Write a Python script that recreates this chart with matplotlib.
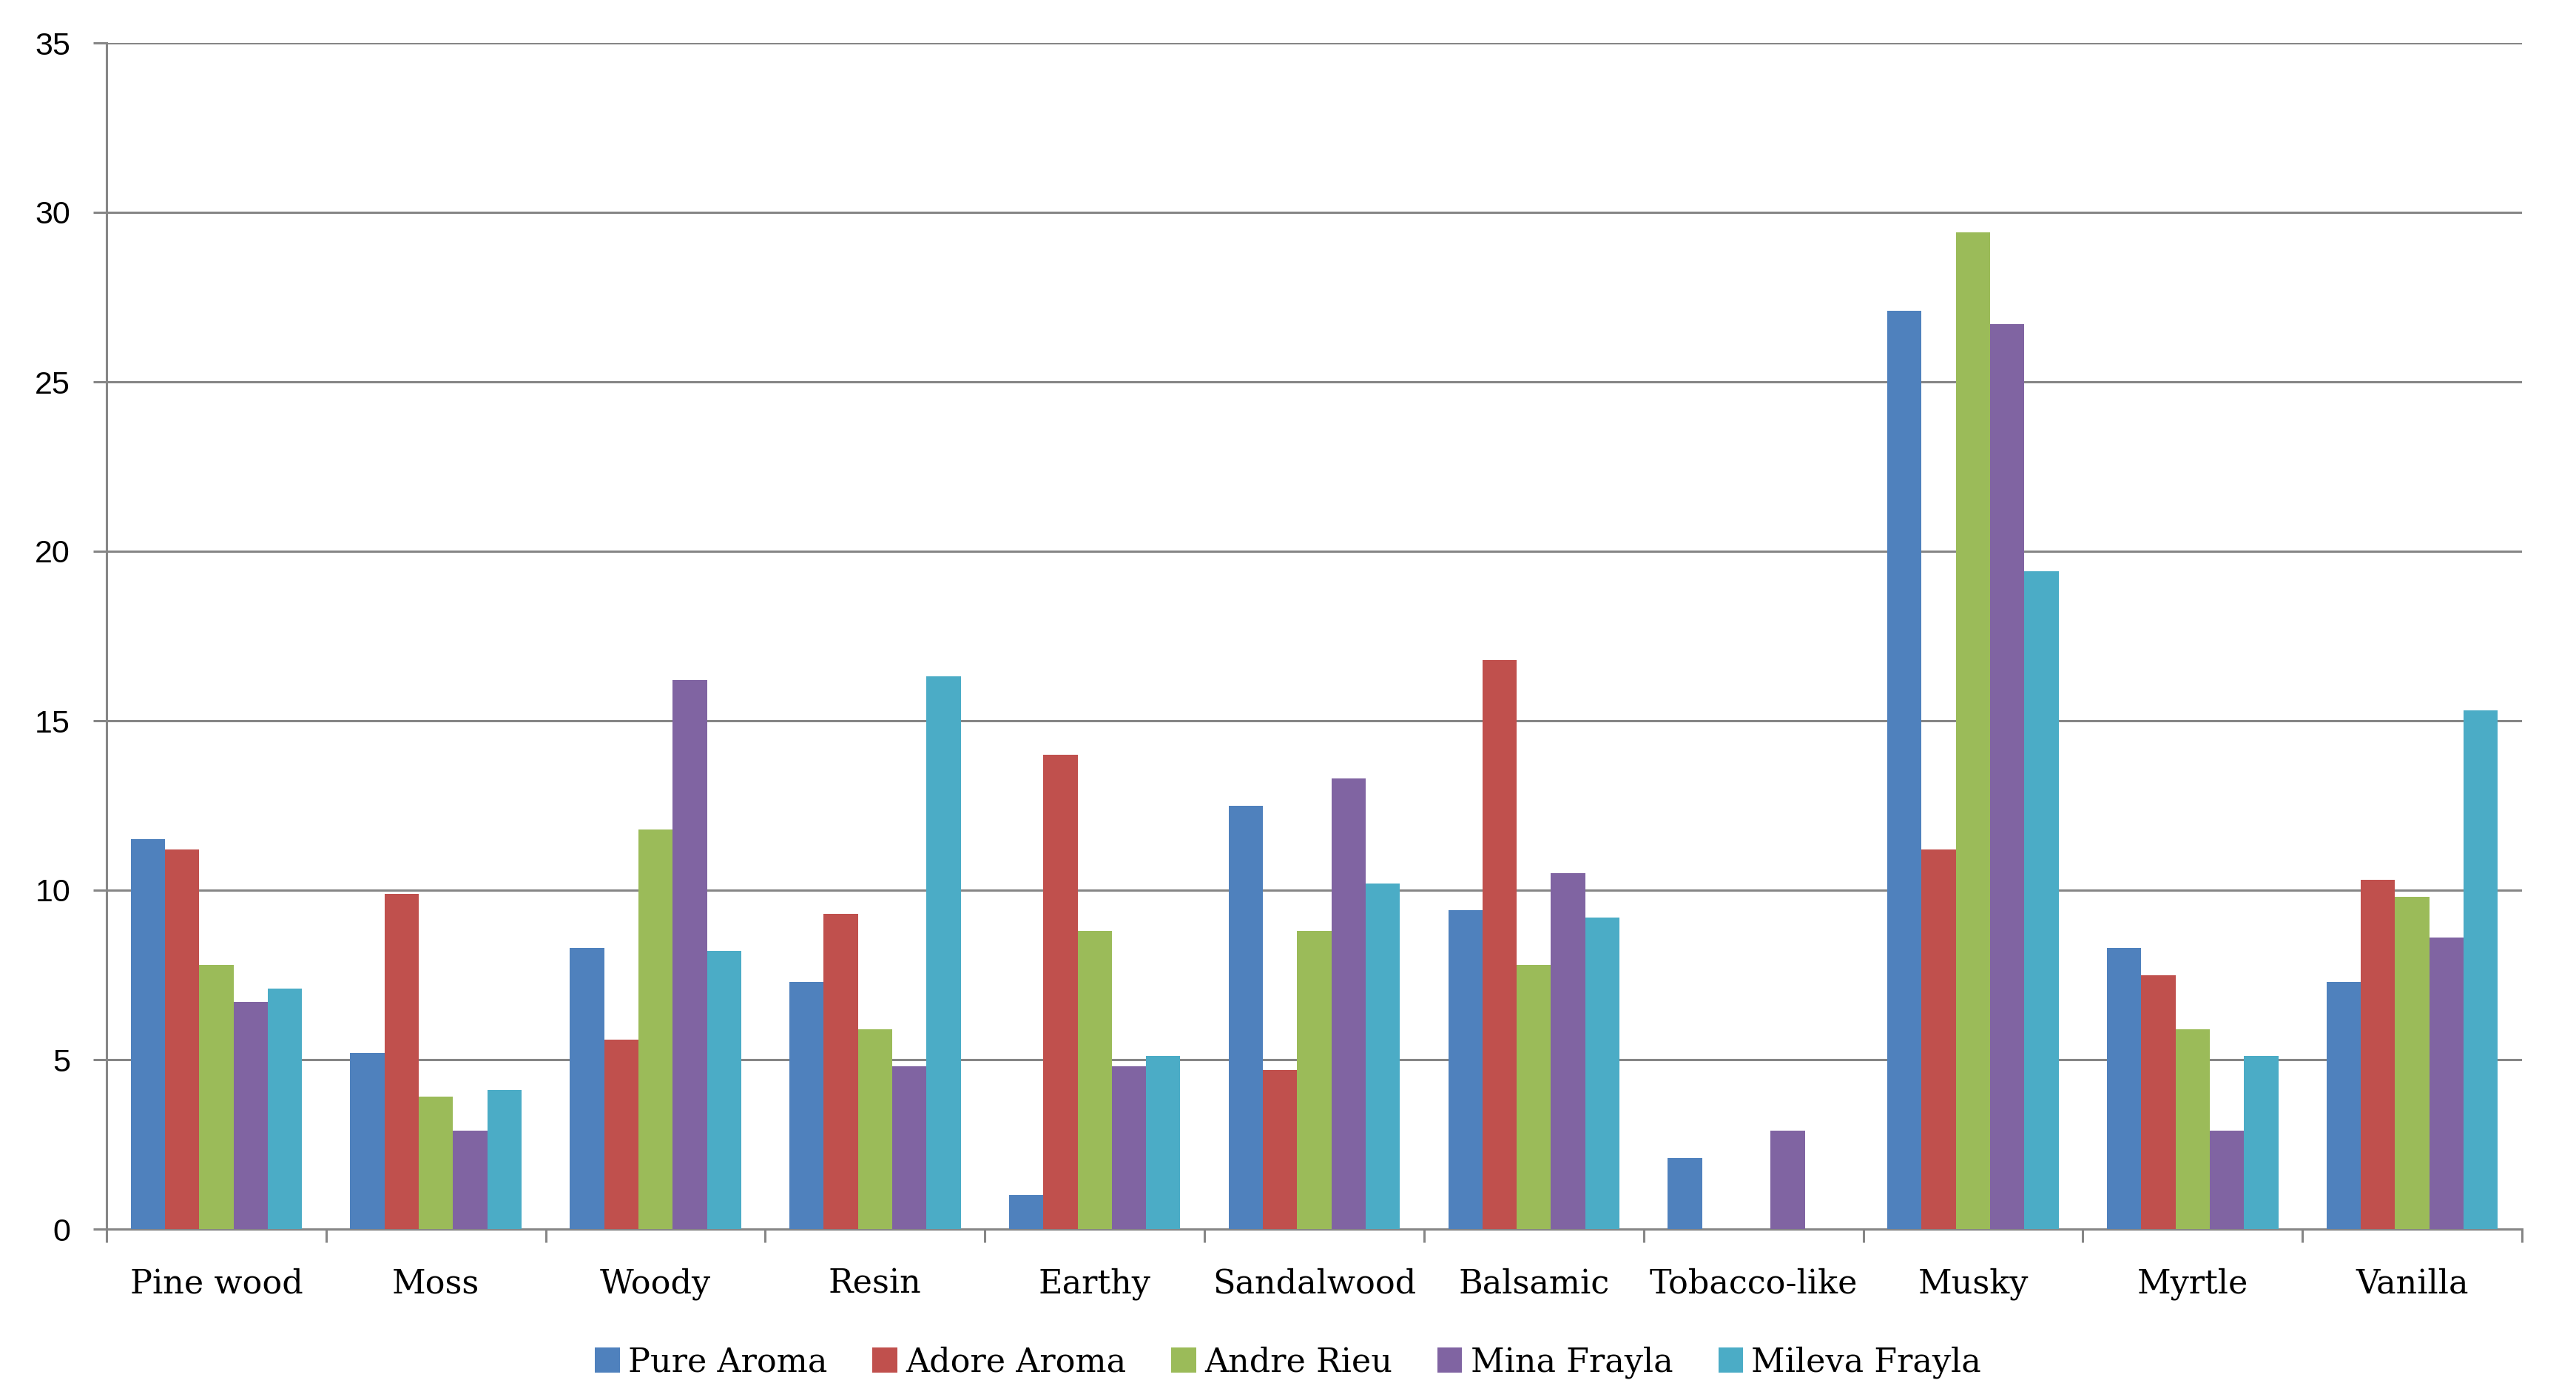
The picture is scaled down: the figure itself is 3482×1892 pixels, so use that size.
import matplotlib
matplotlib.use("Agg")
import matplotlib.pyplot as plt
import numpy as np

categories = ["Pine wood", "Moss", "Woody", "Resin", "Earthy", "Sandalwood",
              "Balsamic", "Tobacco-like", "Musky", "Myrtle", "Vanilla"]
series_names = ["Pure Aroma", "Adore Aroma", "Andre Rieu", "Mina Frayla", "Mileva Frayla"]
pure_aroma   = [11.5, 5.2, 8.3, 7.3, 1.0, 12.5, 9.4, 2.1, 27.1, 8.3, 7.3]
adore_aroma  = [11.2, 9.9, 5.6, 9.3, 14.0, 4.7, 16.8, 0.0, 11.2, 7.5, 10.3]
andre_rieu   = [7.8, 3.9, 11.8, 5.9, 8.8, 8.8, 7.8, 0.0, 29.4, 5.9, 9.8]
mina_frayla  = [6.7, 2.9, 16.2, 4.8, 4.8, 13.3, 10.5, 2.9, 26.7, 2.9, 8.6]
mileva_frayla = [7.1, 4.1, 8.2, 16.3, 5.1, 10.2, 9.2, 0.0, 19.4, 5.1, 15.3]
y_ticks = [0, 5, 10, 15, 20, 25, 30, 35]

series = [pure_aroma, adore_aroma, andre_rieu, mina_frayla, mileva_frayla]
colors = ["#4F81BD", "#C0504D", "#9BBB59", "#8064A2", "#4BACC6"]

DPI = 200
fig = plt.figure(figsize=(3482 / DPI, 1892 / DPI), dpi=DPI)
ax = fig.add_axes([144 / 3482, 1 - 1661 / 1892, (3409 - 144) / 3482, (1661 - 58) / 1892])

grid_color = "#868686"
x = np.arange(len(categories))
w = 0.156
for i, (vals, c, name) in enumerate(zip(series, colors, series_names)):
    ax.bar(x + (i - 2) * w, vals, width=w, color=c, label=name, linewidth=0, zorder=3)

ax.set_xlim(-0.5, len(categories) - 0.5)
ax.set_ylim(0, 35)
ax.set_yticks(y_ticks)
ax.set_yticklabels([str(t) for t in y_ticks], family="Liberation Sans", fontsize=15.5)
ax.yaxis.grid(True, color=grid_color, linewidth=1.1, zorder=0)
ax.set_axisbelow(True)

ax.set_xticks(x)
ax.set_xticklabels(categories, family="DejaVu Serif", fontsize=16)
ax.set_xticks(np.arange(len(categories) + 1) - 0.5, minor=True)
ax.tick_params(axis="x", which="major", length=0, pad=19)
ax.tick_params(axis="x", which="minor", length=6.6, width=1.1, color=grid_color, direction="out")
ax.tick_params(axis="y", length=6.6, width=1.1, color=grid_color, direction="out", pad=11)

for s in ["top", "right"]:
    ax.spines[s].set_visible(False)
for s in ["left", "bottom"]:
    ax.spines[s].set_color(grid_color)
    ax.spines[s].set_linewidth(1.1)

handles, labels = ax.get_legend_handles_labels()
fig.legend(handles, labels, loc="center", bbox_to_anchor=(0.5, 1 - 1841 / 1892), ncol=5,
           frameon=False, prop={"family": "DejaVu Serif", "size": 16},
           handlelength=0.75, handleheight=0.8, handletextpad=0.25, columnspacing=1.38,
           borderaxespad=0)

fig.savefig("out.png", dpi=DPI, facecolor="white")
